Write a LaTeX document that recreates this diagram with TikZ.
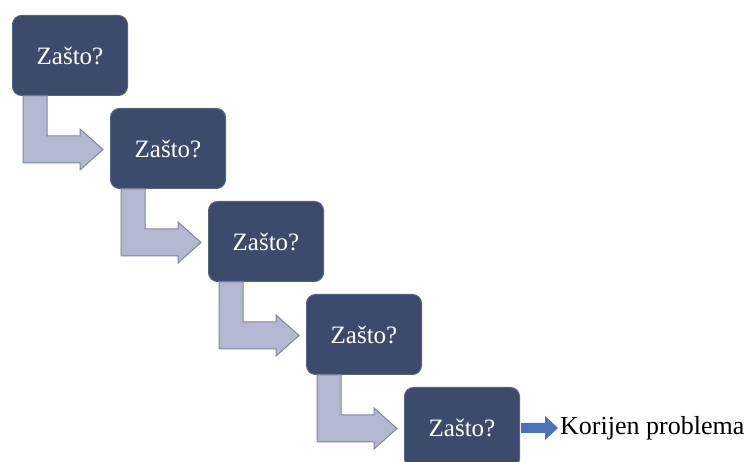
\documentclass[tikz,border=0pt]{standalone}
\usepackage{fontspec}
\setmainfont{Liberation Serif}
\usetikzlibrary{calc}
\definecolor{boxfill}{HTML}{3C4A6C}
\definecolor{boxedge}{HTML}{56637E}
\definecolor{arrfill}{HTML}{B3B8D0}
\definecolor{arredge}{HTML}{80869C}
\definecolor{bluearr}{HTML}{4A72B8}
\tikzset{
  whybox/.style={draw=boxedge, line width=1pt, fill=boxfill, rounded corners=9pt,
    minimum width=115pt, minimum height=80pt, inner sep=0pt, text=white,
    font=\fontsize{25}{28}\selectfont},
  bentarrow/.style={draw=arredge, line width=1pt, fill=arrfill, line join=miter},
}
\begin{document}
\begin{tikzpicture}[x=1pt,y=-1pt]
\useasboundingbox (0,0) rectangle (753,462);
\fill[white] (0,0) rectangle (753,462);
\foreach \i in {0,...,4} {
  \node[whybox, anchor=north west] (b\i) at ({12+98*\i},{15+93*\i}) {Zašto?};
}
\foreach \i in {0,...,3} {
  \draw[bentarrow]
    ($(b\i.south west)+(11,0)$) -- ($(b\i.south west)+(35,0)$)
    -- ($(b\i.south west)+(35,40)$) -- ($(b\i.south west)+(68,40)$)
    -- ($(b\i.south west)+(68,33)$) -- ($(b\i.south west)+(91,53.5)$)
    -- ($(b\i.south west)+(68,74)$) -- ($(b\i.south west)+(68,67)$)
    -- ($(b\i.south west)+(11,67)$) -- cycle;
}
\node[anchor=west, inner sep=0pt, font=\fontsize{26}{30}\selectfont] (root) at (560,428) {Korijen problema};
\fill[bluearr]
  ($(b4.east |- root.west)+(1,-5)$) -- ($(root.west)+(-15,-5)$)
  -- ($(root.west)+(-15,-12)$) -- ($(root.west)+(-2,0)$)
  -- ($(root.west)+(-15,12)$) -- ($(root.west)+(-15,5)$)
  -- ($(b4.east |- root.west)+(1,5)$) -- cycle;
\end{tikzpicture}
\end{document}
